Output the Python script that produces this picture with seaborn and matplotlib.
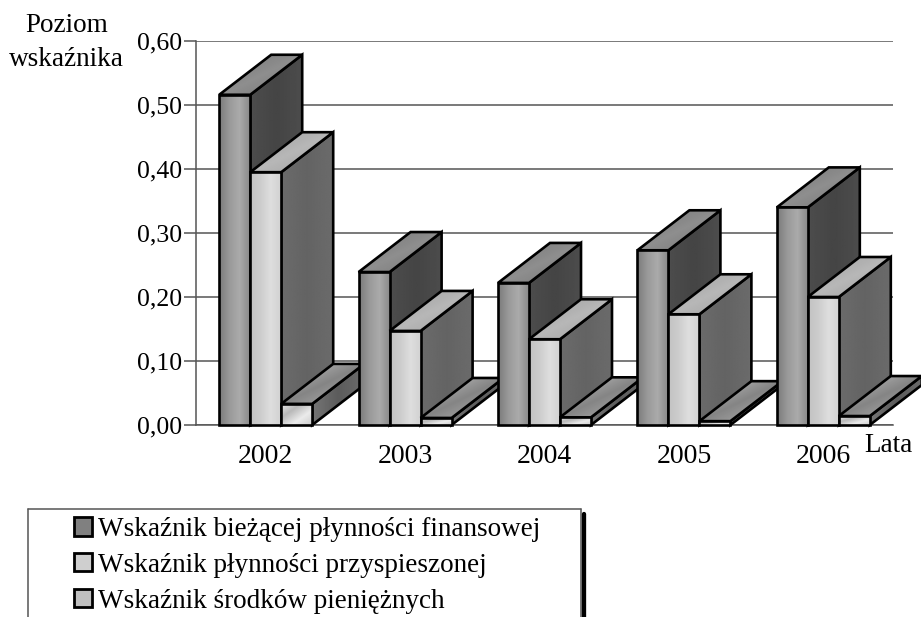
import numpy as np
import pandas as pd
import matplotlib
matplotlib.use("Agg")
import matplotlib.pyplot as plt
import seaborn as sns
from matplotlib.patches import Polygon, Patch
from matplotlib.lines import Line2D

years = ["2002", "2003", "2004", "2005", "2006"]
series_names = ["Wskaźnik bieżącej płynności finansowej",
                "Wskaźnik płynności przyspieszonej",
                "Wskaźnik środków pieniężnych"]
biezaca = [0.516, 0.239, 0.222, 0.273, 0.340]
przyspieszona = [0.395, 0.147, 0.134, 0.173, 0.200]
srodki = [0.033, 0.011, 0.012, 0.006, 0.014]
y_ticks = [0.0, 0.1, 0.2, 0.3, 0.4, 0.5, 0.6]
y_labels = ["0,00", "0,10", "0,20", "0,30", "0,40", "0,50", "0,60"]

W, H = 921, 617
sns.set_theme(style="white")
plt.rcParams["font.family"] = ["Liberation Serif", "DejaVu Serif"]

fig = plt.figure(figsize=(W / 100, H / 100), dpi=100)
ax = fig.add_axes([196 / W, 1 - 425 / H, 697 / W, 384 / H])

df = pd.DataFrame({
    "rok": years * 3,
    "seria": sum([[n] * len(years) for n in series_names], []),
    "wartosc": biezaca + przyspieszona + srodki,
})
front_mid = ["#9a9a9a", "#d8d8d8", "#d8d8d8"]
sns.barplot(data=df, x="rok", y="wartosc", hue="seria", order=years, hue_order=series_names,
            palette=front_mid, width=0.667, gap=0, dodge=True, legend=False, ax=ax,
            edgecolor="none", saturation=1)

ax.set_xlim(-0.5, 4.5)
ax.set_ylim(0, 0.6)
ax.set_xlabel("")
ax.set_ylabel("")
ax.set_yticks(y_ticks, y_labels)
ax.tick_params(axis="y", length=9, width=1.1, color="#555555", labelsize=18.5, pad=1,
               labelcolor="black", left=True)
ax.tick_params(axis="x", length=0, labelsize=20, pad=14, labelcolor="black")
ax.grid(axis="y", color="#555555", lw=1.1, zorder=0)
ax.set_axisbelow(True)
for s in ["top", "right"]:
    ax.spines[s].set_visible(False)
for s in ["left", "bottom"]:
    ax.spines[s].set_color("#555555")
    ax.spines[s].set_linewidth(1.1)

# depth of the pseudo-3D extrusion, in axis units
dx = 52 / 139.4
dy = 40 / 640

side_grad = [[0.30, 0.27, 0.30], [0.42, 0.39, 0.42], [0.46, 0.36, 0.42]]
top_grad = [[0.44, 0.56, 0.46], [0.60, 0.72, 0.62], [0.78, 0.52, 0.72]]
front_grad = [[0.48, 0.60, 0.67, 0.54], [0.76, 0.80, 0.87, 0.82], [0.92, 0.72, 0.92, 0.80]]
EDGE = "black"
LW = 1.9


def gradient(poly, vals, z, diag=False):
    n = 64
    g = np.interp(np.linspace(0, 1, n), np.linspace(0, 1, len(vals)), vals)
    if diag:
        idx = (np.arange(n)[None, :] + np.arange(n)[::-1, None]) // 2
        img = g[idx]
    else:
        img = np.tile(g, (8, 1))
    xs, ys = poly[:, 0], poly[:, 1]
    im = ax.imshow(img, extent=(xs.min(), xs.max(), ys.min(), ys.max()), origin="lower",
                   cmap="gray", vmin=0, vmax=1, aspect="auto", zorder=z,
                   interpolation="bilinear")
    clip = Polygon(poly, closed=True, transform=ax.transData, facecolor="none", edgecolor="none",
                   clip_on=False)
    ax.add_patch(clip)
    clip.set_clip_on(False)
    im.set_clip_path(clip)
    im.set_clip_box(fig.bbox)


def face(poly, vals, z, diag=False):
    gradient(poly, vals, z, diag)
    ax.add_patch(Polygon(poly, closed=True, facecolor="none", edgecolor=EDGE, lw=LW,
                         joinstyle="miter", zorder=z + 0.1, clip_on=False))


for i_year in range(len(years)):
    for i_ser, cont in enumerate(ax.containers):
        bar = cont[i_year]
        x0, w, h = bar.get_x(), bar.get_width(), bar.get_height()
        x1 = x0 + w
        z = 3 + i_year * 10 + i_ser * 3
        bar.set_zorder(z)
        side = np.array([[x1, 0], [x1 + dx, dy], [x1 + dx, h + dy], [x1, h]])
        top = np.array([[x0, h], [x0 + dx, h + dy], [x1 + dx, h + dy], [x1, h]])
        front = np.array([[x0, 0], [x1, 0], [x1, h], [x0, h]])
        face(side, side_grad[i_ser], z + 0.2)
        face(top, top_grad[i_ser], z + 0.4, diag=True)
        face(front, front_grad[i_ser], z + 0.6, diag=i_ser == 2)
ax.set_xlim(-0.5, 4.5)
ax.set_ylim(0, 0.6)

fig.text(66.5 / W, 1 - 32 / H, "Poziom", ha="center", va="baseline", fontsize=19.5, color="black")
fig.text(66.5 / W, 1 - 66 / H, "wskaźnika", ha="center", va="baseline", fontsize=19.5, color="black")
fig.text(888.5 / W, 1 - 452.5 / H, "Lata", ha="center", va="baseline", fontsize=19.5, color="black")

handles = [Patch(facecolor=c, edgecolor="black", lw=2.0) for c in ["#808080", "#cfcfcf", "#c0c0c0"]]
leg = fig.legend(handles, series_names, loc="upper left", bbox_to_anchor=(74 / W, 1 - 517 / H),
                 frameon=False, fontsize=19.5, handlelength=0.66, handleheight=0.66,
                 handletextpad=0.22, labelspacing=0.40, borderpad=0, borderaxespad=0,
                 labelcolor="black")

for xs, ys, c, lw in [((28, 581), (509, 509), "#555555", 1.1),
                      ((28, 28), (509, 617), "#555555", 1.1),
                      ((581, 581), (509, 617), "#555555", 1.1),
                      ((584, 584), (514, 617), "black", 3.1)]:
    fig.add_artist(Line2D([x / W for x in xs], [1 - y / H for y in ys], color=c, lw=lw,
                          transform=fig.transFigure))

fig.savefig("out.png", dpi=100)
